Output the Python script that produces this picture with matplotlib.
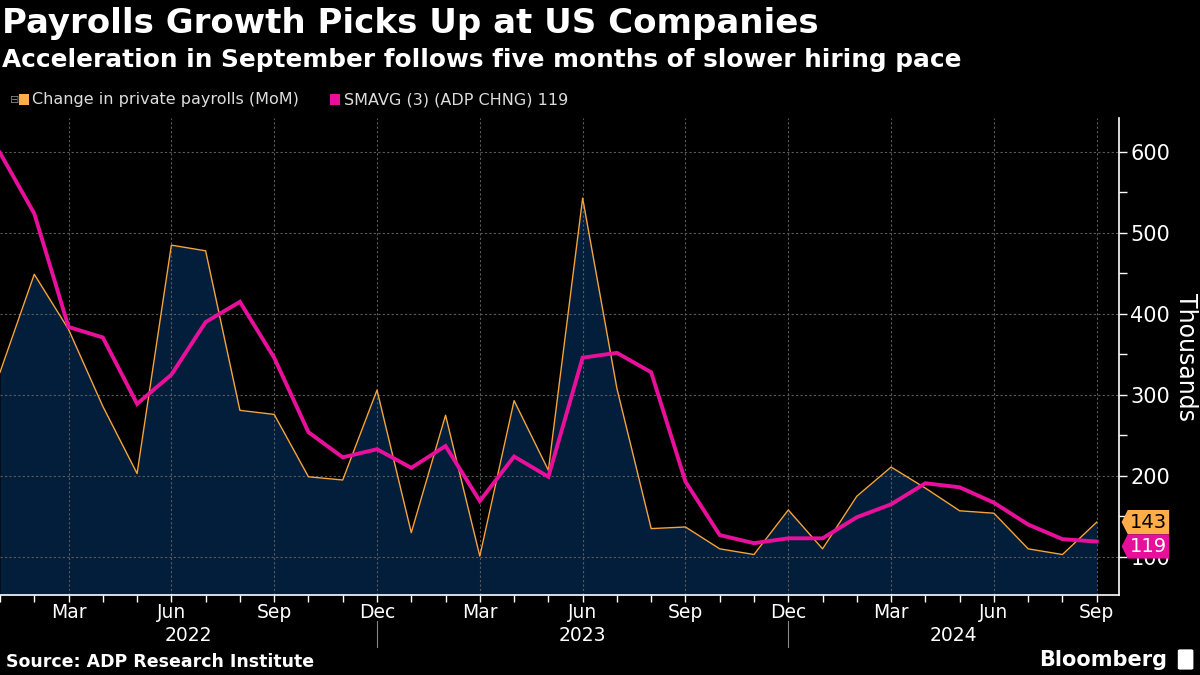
import numpy as np
import matplotlib
matplotlib.use('Agg')
import matplotlib.pyplot as plt
from matplotlib.patches import Polygon, Rectangle, FancyBboxPatch
from matplotlib.transforms import blended_transform_factory

# monthly data, Jan 2022 .. Sep 2024 (thousands)
months = ['Jan', 'Feb', 'Mar', 'Apr', 'May', 'Jun', 'Jul', 'Aug', 'Sep', 'Oct', 'Nov', 'Dec'] * 2 + \
         ['Jan', 'Feb', 'Mar', 'Apr', 'May', 'Jun', 'Jul', 'Aug', 'Sep']
payrolls = [328, 449, 381, 286, 203, 485, 478, 281, 276, 199, 195, 306,
            130, 275, 101, 293, 207, 543, 308, 135, 137, 110, 103,
            158, 110, 175, 211, 185, 157, 154, 110, 103, 143]
smavg = [599, 524, 384, 371, 289, 325, 390, 415, 346, 254, 223, 233,
         210, 237, 169, 224, 199, 346, 352, 328, 193, 127, 117,
         123, 123, 149, 165, 191, 186, 167, 140, 122, 119]
years = ['2022', '2023', '2024']
year_centers = [5.5, 17, 27.83]
year_breaks = [11, 23]
yticks = [100, 200, 300, 400, 500, 600]

ORANGE = '#F5A33C'
PINK = '#E8109B'
NAVY = '#031E3B'
GRID = '#5A5A5A'
FONT = 'DejaVu Sans'

x = np.arange(len(payrolls))

fig = plt.figure(figsize=(12, 6.75), dpi=100, facecolor='black')
ax = fig.add_axes([0.0, 0.1185, 0.9328, 0.7067])
ax.set_facecolor('black')
ymin, ymax = 53, 642
ax.set_xlim(0, 32.66)
ax.set_ylim(ymin, ymax)

ax.fill_between(x, payrolls, ymin, color=NAVY, lw=0, zorder=1)
ax.plot(x, payrolls, color=ORANGE, lw=1, zorder=3)
ax.plot(x, smavg, color=PINK, lw=2.8, zorder=4, solid_joinstyle='miter')

# grid
for yv in yticks:
    ax.axhline(yv, color=GRID, lw=0.8, ls=(0, (2, 2)), zorder=2)
lab_idx = [i for i, m in enumerate(months) if m in ('Mar', 'Jun', 'Sep', 'Dec')]
for i in lab_idx:
    ax.axvline(i, color=GRID, lw=0.8, ls=(0, (2, 2)), zorder=2)

# spines
for s in ['top', 'left']:
    ax.spines[s].set_visible(False)
for s in ['bottom', 'right']:
    ax.spines[s].set_color('white')
    ax.spines[s].set_linewidth(1.2)

ax.yaxis.tick_right()
ax.set_yticks(yticks)
ax.set_yticklabels([str(v) for v in yticks], family=FONT, fontsize=15, color='white')
ax.set_yticks([150, 250, 350, 450, 550], minor=True)
ax.tick_params(axis='y', which='both', colors='white', length=6, width=1, pad=2)
ax.set_ylabel('Thousands', color='white', fontsize=17, family=FONT, rotation=270, labelpad=20)
ax.yaxis.set_label_position('right')

ax.set_xticks(x)
ax.set_xticklabels([months[i] if i in lab_idx else '' for i in x],
                   family=FONT, fontsize=13.5, color='white')
ax.tick_params(axis='x', colors='white', length=5, width=1, pad=0.5)

# year labels and separators
tr = blended_transform_factory(ax.transData, ax.transAxes)
for yl, c in zip(years, year_centers):
    ax.text(c, -0.085, yl, transform=tr, ha='center', va='center', color='white',
            fontsize=13.5, family=FONT, clip_on=False)
for b in year_breaks:
    ax.plot([b, b], [-0.055, -0.11], transform=tr, color='#888888', lw=0.8, clip_on=False)

# last value tags
tt = blended_transform_factory(ax.transAxes, ax.transData)
for val, lo, hi, fc, tc in [(payrolls[-1], 128, 158, '#FFAD4A', 'black'),
                            (smavg[-1], 98, 128, PINK, 'white')]:
    mid = (lo + hi) / 2
    poly = Polygon([[1.002, mid], [1.0075, hi], [1.0445, hi], [1.0445, lo], [1.0075, lo]],
                   closed=True, transform=tt, facecolor=fc, edgecolor='none',
                   clip_on=False, zorder=6)
    ax.add_patch(poly)
    ax.text(1.026, mid, str(val), transform=tt, ha='center', va='center', color=tc,
            fontsize=14, family=FONT, clip_on=False, zorder=7)

# titles
fig.text(0.002, 0.965, 'Payrolls Growth Picks Up at US Companies', fontsize=24.5,
         fontweight='bold', color='white', family=FONT, va='center')
fig.text(0.002, 0.911, 'Acceleration in September follows five months of slower hiring pace',
         fontsize=17.8, fontweight='bold', color='white', family=FONT, va='center')

# legend
fig.text(0.008, 0.852, '\u229f', fontsize=8, color='#888888', va='center')
fig.add_artist(Rectangle((0.0155, 0.845), 0.0085, 0.0155, transform=fig.transFigure,
                         facecolor='#FFAD4A', edgecolor='none'))
fig.text(0.027, 0.852, 'Change in private payrolls (MoM)', fontsize=11.5, color='#DDDDDD',
         family=FONT, va='center')
fig.add_artist(Rectangle((0.275, 0.845), 0.0085, 0.0155, transform=fig.transFigure,
                         facecolor=PINK, edgecolor='none'))
fig.text(0.2865, 0.852, 'SMAVG (3) (ADP CHNG) 119', fontsize=11.5, color='#DDDDDD',
         family=FONT, va='center')

# footer
fig.text(0.005, 0.019, 'Source: ADP Research Institute', fontsize=12.5, fontweight='bold',
         color='white', family=FONT, va='center')
fig.text(0.973, 0.022, 'Bloomberg', fontsize=15, fontweight='bold', color='white',
         family=FONT, va='center', ha='right')
fig.add_artist(FancyBboxPatch((0.9835, 0.01), 0.009, 0.026, transform=fig.transFigure,
                              boxstyle='round,pad=0.002', facecolor='white', edgecolor='none'))

fig.savefig('out.png', dpi=100, facecolor='black')
